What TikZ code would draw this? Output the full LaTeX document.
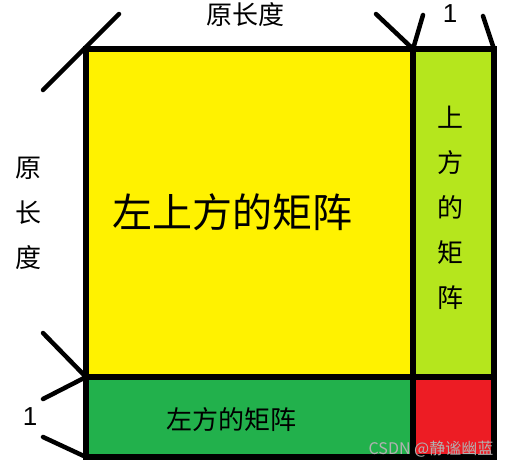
\documentclass[tikz,border=0pt]{standalone}
\usepackage{fontspec}
\setmainfont{Noto Sans CJK SC}
\newfontfamily\digitfont{Liberation Sans}
\definecolor{paintyellow}{RGB}{255,242,0}
\definecolor{paintlime}{RGB}{181,230,29}
\definecolor{paintgreen}{RGB}{34,177,76}
\definecolor{paintred}{RGB}{237,28,36}

\begin{document}
\begin{tikzpicture}
  [x=1pt,y=-1pt]
      \tikzstyle{edge_style} = [draw=black, line width=6pt]
      \tikzstyle{tick_style} = [draw=black, line width=4.5pt, line cap=round]
      \tikzstyle{text_style} = [inner sep=0pt, font=\fontsize{26pt}{45pt}\selectfont, align=center]
  \useasboundingbox (0,0) rectangle (513,469);
  % corners of the blocks
  \coordinate (c00) at (86,49);
  \coordinate (c10) at (413,49);
  \coordinate (c20) at (494,49);
  \coordinate (c01) at (86,377);
  \coordinate (c11) at (413,377);
  \coordinate (c21) at (494,377);
  \coordinate (c02) at (86,457);
  \coordinate (c12) at (413,457);
  \coordinate (c22) at (494,457);
  % free ends of the ticks
  \coordinate (t1a) at (43,90);
  \coordinate (t1b) at (119,14);
  \coordinate (t2a) at (376,14);
  \coordinate (t2b) at (423,15);
  \coordinate (t3a) at (483,16);
  \coordinate (t4a) at (43,333);
  \coordinate (t4b) at (43,399);
  \coordinate (t5a) at (43,437);
  % blocks
  \fill[paintyellow] (c00) rectangle (c11);
  \fill[paintlime] (c10) rectangle (c21);
  \fill[paintgreen] (c01) rectangle (c12);
  \fill[paintred] (c11) rectangle (c22);
  \draw[edge_style] (c00) rectangle (c22);
  \draw[edge_style] (c10) -- (c12);
  \draw[edge_style] (c01) -- (c21);
  % ticks
  \draw[tick_style] (t1a) -- (t1b);
  \draw[tick_style] (t2a) -- (c10) -- (t2b);
  \draw[tick_style] (t3a) -- (c20);
  \draw[tick_style] (t4a) -- (c01) -- (t4b);
  \draw[tick_style] (t5a) -- (c02);
  % labels
  \node[text_style] (top_len) at (245,15) {原长度};
  \node[text_style, font=\digitfont\fontsize{26pt}{30pt}\selectfont] (top_one) at (450,14) {1};
  \node[text_style] (left_len) at (28,213) {原\\长\\度};
  \node[text_style, font=\digitfont\fontsize{26pt}{30pt}\selectfont] (left_one) at (30,417) {1};
  \node[text_style, font=\fontsize{40pt}{48pt}\selectfont] (big) at (232,212) {左上方的矩阵};
  \node[text_style] (upper) at (450,208) {上\\方\\的\\矩\\阵};
  \node[text_style] (lower) at (231,420) {左方的矩阵};
  \node[inner sep=0pt, text=gray!60, font=\fontsize{16pt}{18pt}\selectfont] (mark) at (431,449) {CSDN @静谧幽蓝};
\end{tikzpicture}
\end{document}
